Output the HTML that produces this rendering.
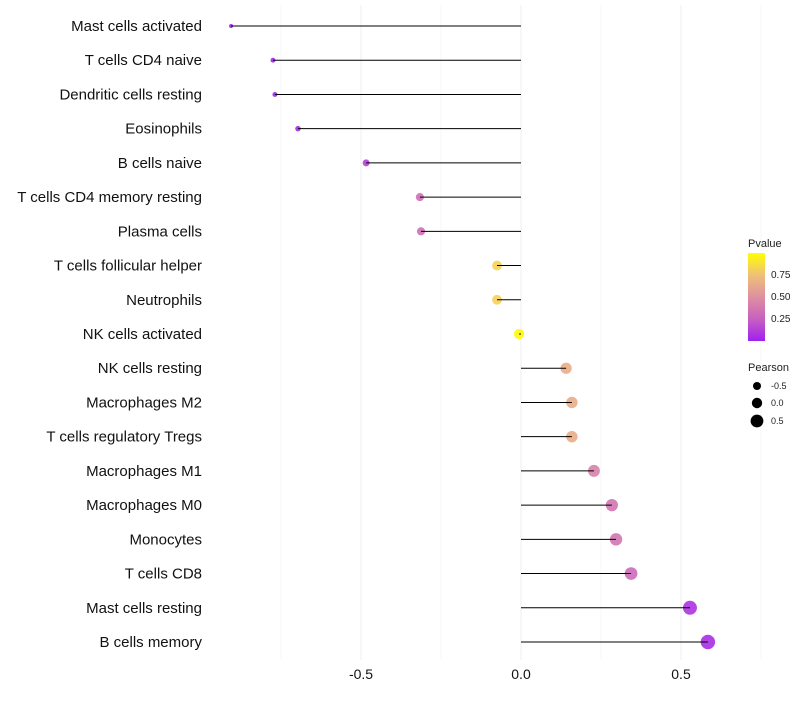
<!DOCTYPE html>
<html><head><meta charset="utf-8"><style>
body{margin:0;background:#fff;font-family:"Liberation Sans",sans-serif}
</style></head><body>
<svg id="chart" width="800" height="700" xmlns="http://www.w3.org/2000/svg">
<defs><linearGradient id="pg" x1="0" y1="1" x2="0" y2="0">
<stop offset="0" stop-color="#A020F0"/><stop offset="0.25" stop-color="#C860C0"/><stop offset="0.5" stop-color="#DE90A0"/><stop offset="0.75" stop-color="#F0C078"/><stop offset="1" stop-color="#FFFF00"/></linearGradient></defs>
<g id="grid"></g>
<g id="dots"></g>
<g id="marks"></g>
<g id="labels"></g>
<g id="xt"></g>
<g font-size="10" fill="#222">
<text x="748" y="247" font-size="11">Pvalue</text>
<rect x="748" y="253" width="17" height="88" fill="url(#pg)"/>
<text x="771" y="278">0.75</text>
<text x="771" y="300">0.50</text>
<text x="771" y="322">0.25</text>
</g>
<g font-size="9" fill="#222">
<text x="748" y="371" font-size="11">Pearson</text>
<circle cx="757" cy="386" r="4" fill="#000"/>
<circle cx="757" cy="403" r="5.2" fill="#000"/>
<circle cx="757" cy="421" r="6.4" fill="#000"/>
<text x="771" y="389">-0.5</text>
<text x="771" y="406">0.0</text>
<text x="771" y="424">0.5</text>
</g>
</svg>
<script>
const categories=["Mast cells activated","T cells CD4 naive","Dendritic cells resting","Eosinophils","B cells naive","T cells CD4 memory resting","Plasma cells","T cells follicular helper","Neutrophils","NK cells activated","NK cells resting","Macrophages M2","T cells regulatory  Tregs ","Macrophages M1","Macrophages M0","Monocytes","T cells CD8","Mast cells resting","B cells memory"];
const pearson=[-0.906,-0.775,-0.769,-0.697,-0.484,-0.316,-0.3125,-0.075,-0.075,-0.006,0.141,0.159,0.159,0.228,0.284,0.297,0.344,0.528,0.584];
const pvalue=[0.0,0.01,0.01,0.03,0.12,0.33,0.33,0.82,0.82,0.98,0.65,0.65,0.65,0.42,0.36,0.36,0.3,0.08,0.05];
const xTicks=[-0.5,0,0.5];
const xTickLabels=["-0.5","0.0","0.5"];
const minorTicks=[-0.75,-0.25,0.25,0.75];
const NS="http://www.w3.org/2000/svg";
const x=v=>521+v*320;
const y=i=>26+i*(642-26)/18;
const r=p=>2+(p+0.906)/1.49*5.2;
const stops=[[0,[160,32,240]],[0.25,[200,96,192]],[0.5,[222,144,160]],[0.75,[240,192,120]],[1,[255,255,0]]];
function col(p){for(let k=1;k<stops.length;k++){if(p<=stops[k][0]){const a=stops[k-1],b=stops[k],t=(p-a[0])/(b[0]-a[0]);return "rgb("+a[1].map((c,j)=>Math.round(c+(b[1][j]-c)*t)).join(",")+")";}}return "rgb(255,255,0)";}
function mk(t,at,parent){const e=document.createElementNS(NS,t);for(const k in at)e.setAttribute(k,at[k]);document.getElementById(parent).appendChild(e);return e;}
minorTicks.forEach(v=>{const l=mk("line",{x1:x(v),x2:x(v),y1:5,y2:660,stroke:"#f7f7f7","stroke-width":1},"grid");

});
xTicks.forEach((v,i)=>{const l=mk("line",{x1:x(v),x2:x(v),y1:5,y2:660,stroke:"#efefef","stroke-width":1},"grid");


const t=mk("text",{x:x(v),y:679,"text-anchor":"middle","font-size":14,fill:"#111"},"xt");t.textContent=xTickLabels[i];

});
categories.forEach((c,i)=>{
const ci=mk("circle",{cx:x(pearson[i]),cy:y(i),r:r(pearson[i]),fill:col(pvalue[i]),"fill-opacity":0.9},"dots");


const ln=mk("line",{x1:x(0),x2:x(pearson[i]),y1:y(i),y2:y(i),stroke:"#000","stroke-width":1},"marks");


const t=mk("text",{x:202,y:y(i)+5,"text-anchor":"end","font-size":15,fill:"#111"},"labels");t.textContent=c;
t.setAttribute('xml:space','preserve');


});
</script>
</body></html>
